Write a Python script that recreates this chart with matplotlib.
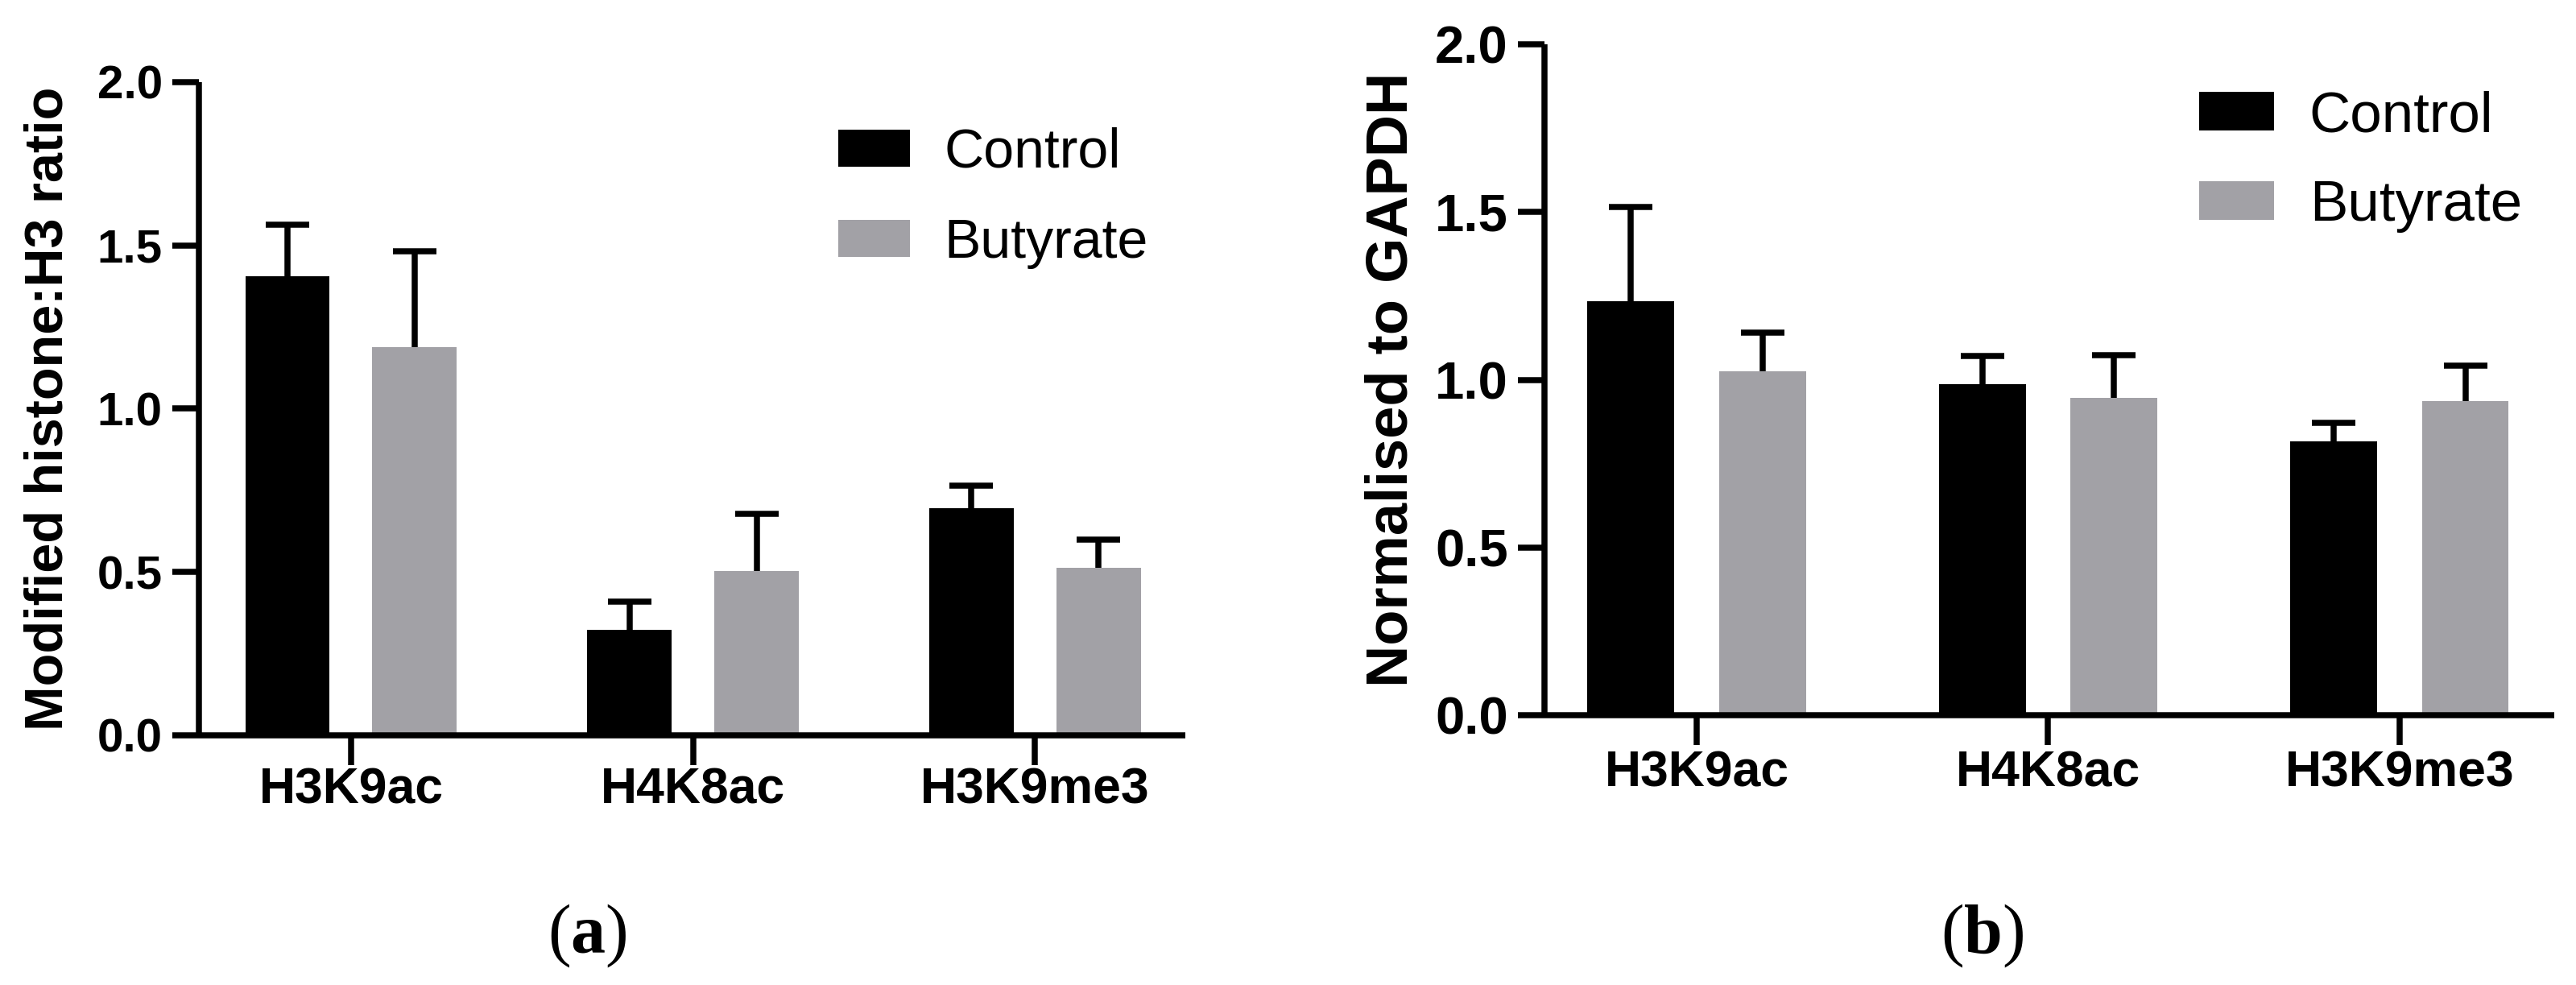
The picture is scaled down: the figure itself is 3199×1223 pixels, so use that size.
import matplotlib
matplotlib.use("Agg")
import matplotlib.pyplot as plt
import numpy as np

plt.rcParams['font.family'] = ['Liberation Sans', 'DejaVu Sans']
plt.rcParams['mathtext.fontset'] = 'custom'
plt.rcParams['mathtext.rm'] = 'Liberation Serif'
plt.rcParams['mathtext.bf'] = 'Liberation Serif:bold'

# ---------------- data ----------------
categories = ['H3K9ac', 'H4K8ac', 'H3K9me3']
series_names = ['Control', 'Butyrate']

a_control = [1.406, 0.323, 0.694]
a_control_err = [0.156, 0.085, 0.071]
a_butyrate = [1.187, 0.504, 0.513]
a_butyrate_err = [0.294, 0.173, 0.085]
a_ylabel = 'Modified histone:H3 ratio'

b_control = [1.233, 0.986, 0.816]
b_control_err = [0.281, 0.084, 0.056]
b_butyrate = [1.025, 0.945, 0.937]
b_butyrate_err = [0.116, 0.129, 0.105]
b_ylabel = 'Normalised to GAPDH'

yticks = [0.0, 0.5, 1.0, 1.5, 2.0]
panel_tags = ['a', 'b']

colors = ['#000000', '#a2a1a6']

W, H = 3199, 1223
fig = plt.figure(figsize=(W / 100, H / 100), dpi=100)


def fx(px):
    return px / W


def fy(py):
    return 1 - py / H


def panel(rect, control, control_err, butyrate, butyrate_err, ylabel,
          xlim, offset, ytick_fs, xtick_fs, ylabel_fs, leg_fs, leg_anchor,
          label_x, xpad, labelspacing):
    ax = fig.add_axes(rect)
    x = np.arange(len(categories))
    width = 0.247
    lw = 5.4
    for vals, errs, col, sign, name in [(control, control_err, colors[0], -1, series_names[0]),
                                        (butyrate, butyrate_err, colors[1], 1, series_names[1])]:
        xs = x + sign * offset
        ax.bar(xs, vals, width=width, color=col, edgecolor='none', label=name, zorder=2)
        eb = ax.errorbar(xs, vals, yerr=[np.zeros(len(vals)), errs], fmt='none',
                         ecolor='black', elinewidth=lw, capsize=19.5, capthick=lw, zorder=1)
        eb[1][0].set_visible(False)
    ax.set_xlim(*xlim)
    ax.set_ylim(0, 2.0)
    ax.set_yticks(yticks)
    ax.set_yticklabels([f'{v:.1f}' for v in yticks])
    ax.set_xticks(x)
    ax.set_xticklabels(categories)
    for s in ['top', 'right']:
        ax.spines[s].set_visible(False)
    for s in ['left', 'bottom']:
        ax.spines[s].set_linewidth(lw)
        ax.spines[s].set_capstyle('butt')
    ax.tick_params(axis='y', direction='out', length=23.5, width=lw, pad=9,
                   labelsize=ytick_fs)
    ax.tick_params(axis='x', direction='out', length=26.5, width=lw, pad=xpad,
                   labelsize=xtick_fs)
    for t in ax.get_xticklabels() + ax.get_yticklabels():
        t.set_fontweight('bold')
    ax.set_ylabel(ylabel, fontsize=ylabel_fs, fontweight='bold')
    ax.yaxis.set_label_coords(label_x, 0.5)
    ax.legend(loc='upper left', bbox_to_anchor=leg_anchor, bbox_transform=fig.transFigure,
              frameon=False, fontsize=leg_fs, handlelength=1.31, handleheight=0.66,
              handletextpad=0.62, labelspacing=labelspacing, borderpad=0, borderaxespad=0)
    return ax


rect_a = [fx(247), fy(913), fx(1472) - fx(247), fy(101.7) - fy(913)]
panel(rect_a, a_control, a_control_err, a_butyrate, a_butyrate_err, a_ylabel,
      (-0.445, 2.44), 0.186, 42, 45, 48, 49, (fx(1041), fy(158)), -0.127, 1, 0.70)

rect_b = [fx(1918), fy(888), fx(3172) - fx(1918), fy(55) - fy(888)]
panel(rect_b, b_control, b_control_err, b_butyrate, b_butyrate_err, b_ylabel,
      (-0.433, 2.44), 0.187, 47, 45, 52, 51, (fx(2731), fy(112)), -0.124, 4, 0.63)

for tag, cx in zip(panel_tags, [729, 2462]):
    fig.text(fx(cx), fy(1162), r'$\mathrm{(}\mathbf{' + tag + r'}\mathrm{)}$',
             ha='center', va='center', fontsize=62)

fig.savefig('out.png', dpi=100, facecolor='white')
